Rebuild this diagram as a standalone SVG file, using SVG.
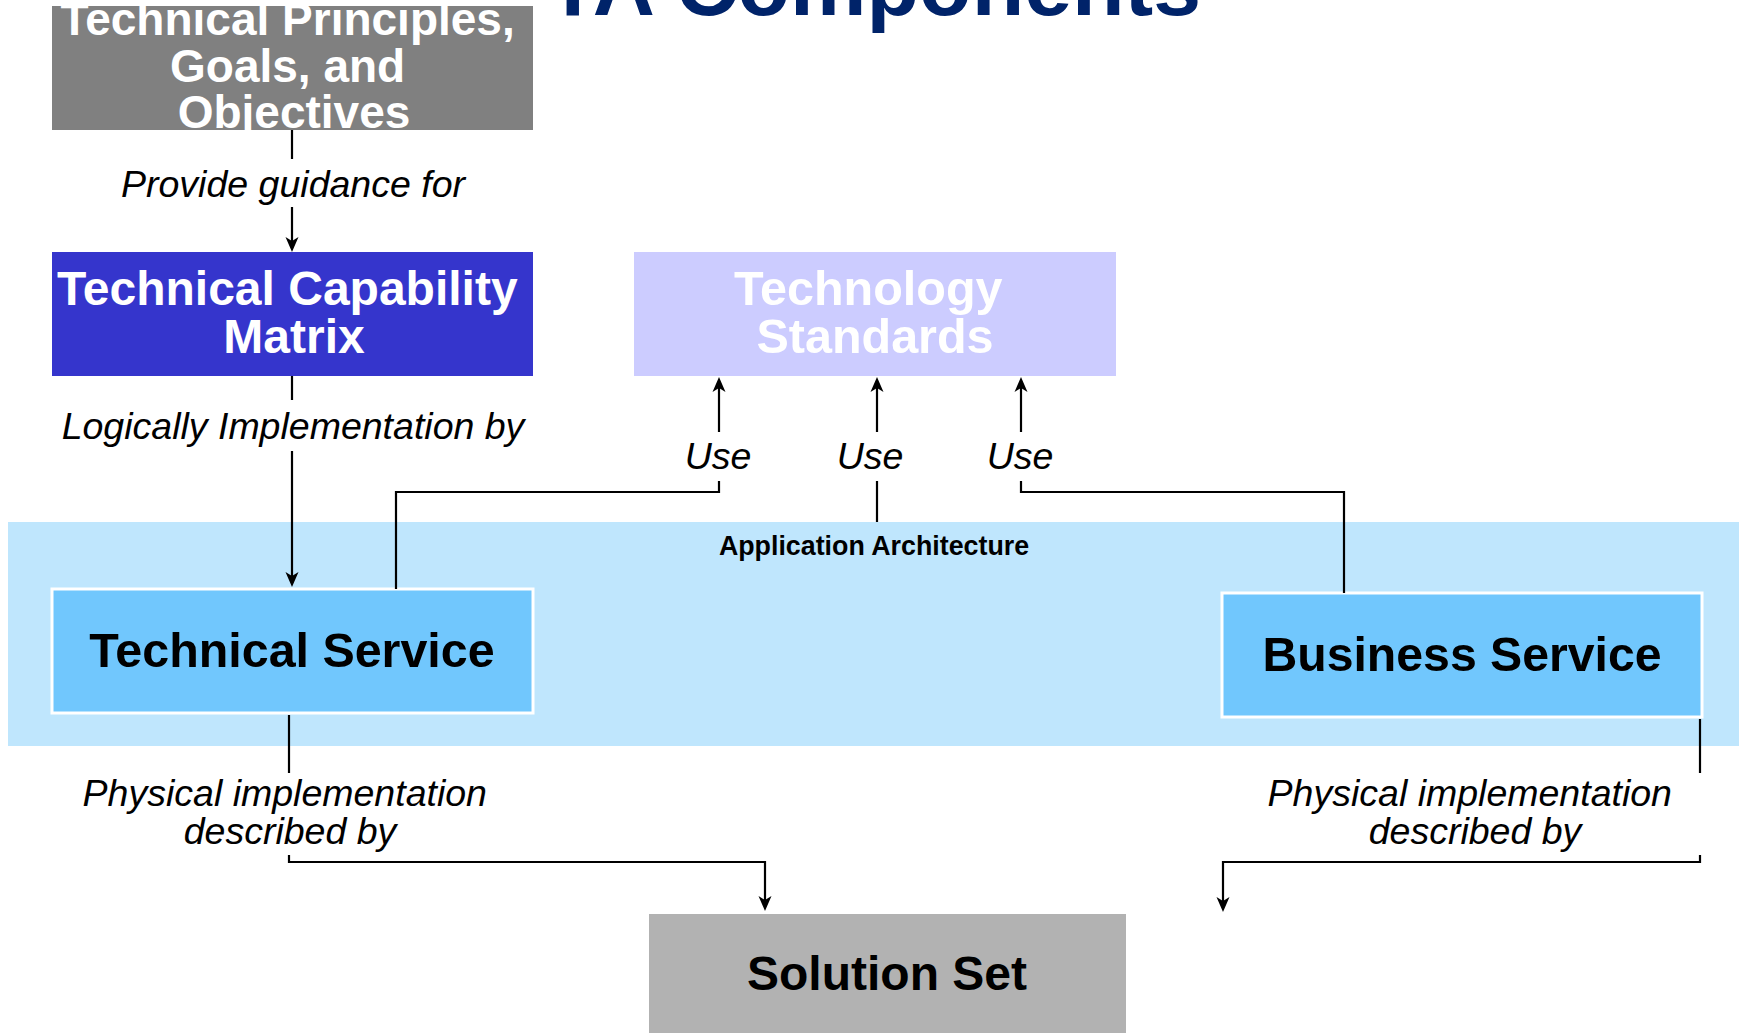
<svg xmlns="http://www.w3.org/2000/svg" width="1739" height="1033" viewBox="0 0 1739 1033">
  <style>
    .box-title { font-family: "Liberation Sans", Arial, sans-serif; font-weight: bold; text-anchor: middle; }
    .white { fill: #ffffff; }
    .black { fill: #000000; }
    .lbl { font-family: "Liberation Sans", Arial, sans-serif; font-style: italic; font-size: 37.5px; fill: #000000; text-anchor: middle; }
    .conn { fill: none; stroke: #000000; stroke-width: 2.2; }
    .svc { fill: #71C7FD; stroke: #ffffff; stroke-width: 3; }
  </style>
  <defs>
    <marker id="arrow" markerUnits="userSpaceOnUse" markerWidth="16" markerHeight="15" viewBox="0 0 16 15" refX="11" refY="7.5" orient="auto">
      <path d="M0,1 L15,7.5 L0,14 L4,7.5 Z" fill="#000000"/>
    </marker>
    <clipPath id="clipPrinciples">
      <rect x="52" y="6" width="481" height="124"/>
    </clipPath>
  </defs>
  <rect x="0" y="0" width="1739" height="1033" fill="#ffffff"/>

  <g id="title">
    <text x="1201" y="15" font-family="Liberation Sans, Arial, sans-serif" font-weight="bold" font-size="86" fill="#002369" text-anchor="end">TA Components</text>
  </g>

  <g id="app-architecture">
    <rect x="8" y="522" width="1731" height="224" fill="#BFE6FD"/>
    <text x="874" y="555" class="box-title black" font-size="26.8">Application Architecture</text>
  </g>

  <g id="principles">
    <rect x="52" y="6" width="481" height="124" fill="#808080"/>
    <g clip-path="url(#clipPrinciples)">
      <text class="box-title white" font-size="46">
        <tspan x="294" y="35">Technical Principles,</tspan>
        <tspan x="294" y="82">Goals, and</tspan>
        <tspan x="294" y="128">Objectives</tspan>
      </text>
    </g>
  </g>

  <g id="capability-matrix">
    <rect x="52" y="252" width="481" height="124" fill="#3535CC"/>
    <text class="box-title white" font-size="48">
      <tspan x="294" y="305">Technical Capability</tspan>
      <tspan x="294" y="353">Matrix</tspan>
    </text>
  </g>

  <g id="technology-standards">
    <rect x="634" y="252" width="482" height="124" fill="#CCCCFF"/>
    <text class="box-title white" font-size="48.5">
      <tspan x="875" y="305">Technology</tspan>
      <tspan x="875" y="353">Standards</tspan>
    </text>
  </g>

  <g id="technical-service">
    <rect x="52" y="589" width="481" height="124" class="svc"/>
    <text x="292" y="667" class="box-title black" font-size="48.4">Technical Service</text>
  </g>

  <g id="business-service">
    <rect x="1222" y="593" width="480" height="124" class="svc"/>
    <text x="1462" y="671" class="box-title black" font-size="48.2">Business Service</text>
  </g>

  <g id="solution-set">
    <rect x="649" y="914" width="477" height="119" fill="#B2B2B2"/>
    <text x="887" y="990" class="box-title black" font-size="48">Solution Set</text>
  </g>

  <g id="connectors">
    <path class="conn" d="M292,130 V159"/>
    <path class="conn" d="M292,207 V248" marker-end="url(#arrow)"/>
    <text class="lbl" x="293" y="197">Provide guidance for</text>

    <path class="conn" d="M292,376 V400"/>
    <path class="conn" d="M292,451 V583" marker-end="url(#arrow)"/>
    <text class="lbl" x="293" y="439">Logically Implementation by</text>

    <path class="conn" d="M396,589 V492 H719 V481"/>
    <path class="conn" d="M719,432 V381" marker-end="url(#arrow)"/>
    <text class="lbl" x="718" y="469">Use</text>

    <path class="conn" d="M877,522 V481"/>
    <path class="conn" d="M877,432 V381" marker-end="url(#arrow)"/>
    <text class="lbl" x="870" y="469">Use</text>

    <path class="conn" d="M1344,593 V492 H1021 V481"/>
    <path class="conn" d="M1021,432 V381" marker-end="url(#arrow)"/>
    <text class="lbl" x="1020" y="469">Use</text>

    <path class="conn" d="M289,715 V773"/>
    <path class="conn" d="M289,855 V862 H765 V907" marker-end="url(#arrow)"/>
    <text class="lbl">
      <tspan x="290" y="806">Physical implementation</tspan>
      <tspan x="290" y="844">described by</tspan>
    </text>

    <path class="conn" d="M1700,719 V773"/>
    <path class="conn" d="M1700,855 V862 H1223 V908" marker-end="url(#arrow)"/>
    <text class="lbl">
      <tspan x="1475" y="806">Physical implementation</tspan>
      <tspan x="1475" y="844">described by</tspan>
    </text>
  </g>
</svg>
